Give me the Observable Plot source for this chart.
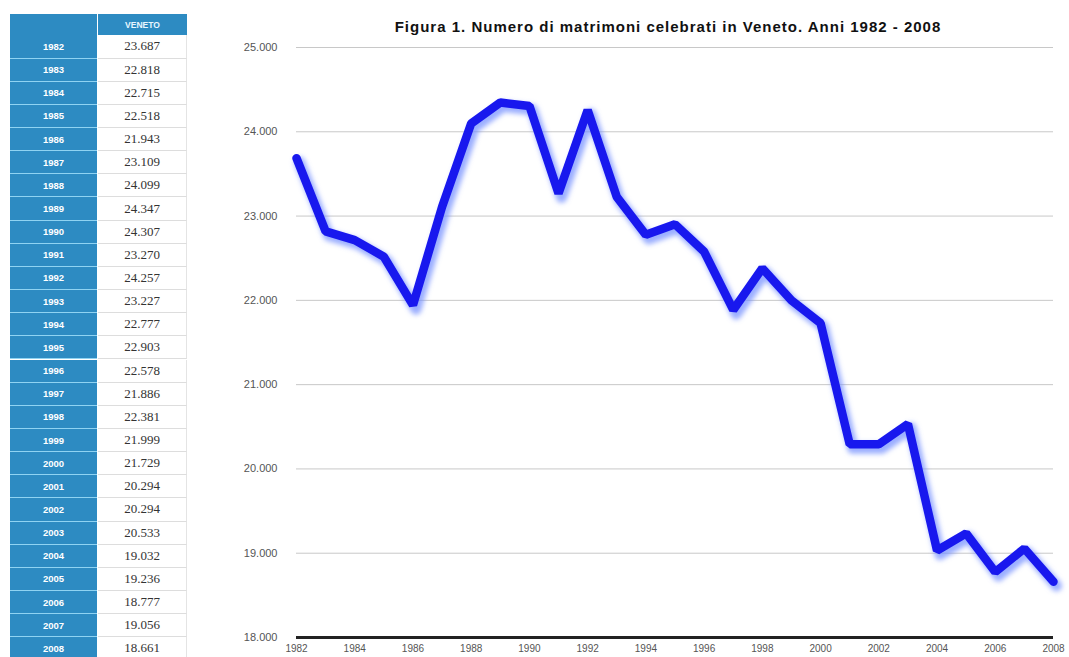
<!DOCTYPE html>
<html><head><meta charset="utf-8">
<script src="https://cdn.jsdelivr.net/npm/d3@7"></script>
<script src="https://cdn.jsdelivr.net/npm/@observablehq/plot@0.6"></script>
<style>
body{margin:0;background:#fff;width:1069px;height:657px;overflow:hidden;position:relative;font-family:"Liberation Sans",Arial,sans-serif}
#title{position:absolute;left:200px;width:936px;top:18px;text-align:center;font-weight:bold;font-size:15px;letter-spacing:1px;color:#111}
#tbl{position:absolute;left:0;top:0}
.cell{position:absolute;box-sizing:border-box;display:flex;align-items:center;justify-content:center}
.yr{background:#2d8bc2;color:#fff;font-weight:bold;font-size:9.5px;border-bottom:1.5px solid #8fd3f2}
.val{background:#fff;color:#333;font-family:"Liberation Serif","DejaVu Serif",serif;font-size:13px;border-bottom:1px solid #ddd;border-right:1px solid #e4e4e4}
.hd{background:#2d8bc2;color:#e8f6ff;font-weight:bold;font-size:8.5px}
#chart{position:absolute;left:200px;top:0}
</style></head><body>
<div id="title"></div>
<div id="tbl"></div>
<div id="chart"></div>
<script>
const years = [1982,1983,1984,1985,1986,1987,1988,1989,1990,1991,1992,1993,1994,1995,1996,1997,1998,1999,2000,2001,2002,2003,2004,2005,2006,2007,2008];
const values = [23687,22818,22715,22518,21943,23109,24099,24347,24307,23270,24257,23227,22777,22903,22578,21886,22381,21999,21729,20294,20294,20533,19032,19236,18777,19056,18661];
const yTicks = [18000,19000,20000,21000,22000,23000,24000,25000];
const xTicks = [1982,1984,1986,1988,1990,1992,1994,1996,1998,2000,2002,2004,2006,2008];
const seriesName = "VENETO";
const titleText = "Figura 1. Numero di matrimoni celebrati in Veneto. Anni 1982 - 2008";

const loc = d3.formatLocale({decimal: ",", thousands: ".", grouping: [3], currency: ["€", ""]});
const fmt = loc.format(",d");

document.getElementById("title").textContent = titleText;

// table
const tbl = document.getElementById("tbl");
function cell(cls, x, y, w, h, txt) {
  const d = document.createElement("div");
  d.className = "cell " + cls;
  d.style.left = x + "px"; d.style.top = y + "px";
  d.style.width = w + "px"; d.style.height = h + "px";
  d.textContent = txt;
  tbl.appendChild(d);
}
cell("hd", 10, 14, 87, 21, "");
cell("hd", 98, 14, 89, 21, seriesName);
const rowH = 23.15, top0 = 35.4;
years.forEach((y, i) => {
  cell("yr", 10, top0 + i * rowH, 87, rowH, String(y));
  cell("val", 98, top0 + i * rowH, 89, rowH, fmt(values[i]));
});

const data = years.map((y, i) => ({year: y, value: values[i]}));

const chart = Plot.plot({
  width: 869, height: 657,
  marginLeft: 96, marginRight: 16, marginTop: 47, marginBottom: 20,
  style: {fontFamily: "Liberation Sans, Arial, sans-serif", fontSize: "10px", color: "#555", background: "transparent"},
  x: {domain: [1982, 2008], ticks: xTicks, tickFormat: d => String(d), tickSize: 0, tickPadding: 7, label: null},
  y: {domain: [18000, 25000], ticks: yTicks, tickFormat: fmt, tickSize: 0, tickPadding: 19, label: null},
  marks: [
    Plot.gridY(yTicks.slice(1), {stroke: "#c8c8c8", strokeOpacity: 1, strokeWidth: 1}),
    Plot.ruleY([18000], {stroke: "#222", strokeWidth: 3}),
    Plot.line(data, {x: "year", y: "value", stroke: "#6f8cff", strokeWidth: 11, strokeOpacity: 0.7, dx: 3, dy: 4}),
    Plot.line(data, {x: "year", y: "value", stroke: "#1818ee", strokeWidth: 8.5, strokeLinejoin: "miter"})
  ]
});
document.getElementById("chart").appendChild(chart);
d3.select(chart).selectAll('g[aria-label="y-axis tick label"] text').style("font-size", "11px");

// blur the shadow line
const svg = d3.select(chart);
svg.insert("defs", ":first-child").append("filter").attr("id", "shadowBlur")
  .attr("x", "-10%").attr("y", "-10%").attr("width", "120%").attr("height", "120%")
  .append("feGaussianBlur").attr("stdDeviation", 2.5);
svg.selectAll('g[aria-label="line"]').filter((d, i) => i === 0).attr("filter", "url(#shadowBlur)");
</script>
</body></html>
